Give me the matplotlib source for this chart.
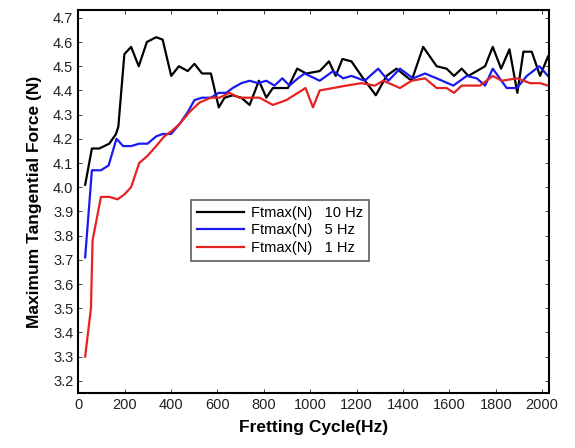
import matplotlib
matplotlib.use("Agg")
import matplotlib.pyplot as plt
from matplotlib.ticker import MultipleLocator, FormatStrFormatter

plt.rcParams["font.family"] = ["Liberation Sans", "DejaVu Sans"]

# ---- data
x10 = [30, 59, 91, 134, 163, 173, 199, 228, 261, 296, 336, 364, 401, 434, 472, 501,
       534, 572, 606, 631, 666, 703, 739, 779, 811, 839, 904, 944, 983, 1041, 1081,
       1110, 1139, 1178, 1221, 1283, 1329, 1372, 1437, 1487, 1545, 1588, 1620, 1653,
       1682, 1754, 1787, 1823, 1859, 1893, 1919, 1955, 1991, 2025]
y10 = [4.01, 4.16, 4.16, 4.18, 4.22, 4.25, 4.55, 4.58, 4.50, 4.60, 4.62, 4.61, 4.46,
       4.50, 4.48, 4.51, 4.47, 4.47, 4.33, 4.37, 4.38, 4.37, 4.34, 4.44, 4.37, 4.41,
       4.41, 4.49, 4.47, 4.48, 4.52, 4.46, 4.53, 4.52, 4.46, 4.38, 4.46, 4.49, 4.44,
       4.58, 4.50, 4.49, 4.46, 4.49, 4.46, 4.50, 4.58, 4.49, 4.57, 4.39, 4.56, 4.56,
       4.46, 4.54]

x5 = [30, 59, 98, 131, 165, 194, 228, 263, 299, 336, 364, 400, 436, 472, 501, 534,
      572, 606, 638, 666, 703, 739, 775, 811, 846, 880, 911, 947, 976, 998, 1041,
      1099, 1142, 1178, 1235, 1293, 1337, 1387, 1444, 1495, 1545, 1617, 1675, 1718,
      1754, 1787, 1847, 1891, 1934, 1988, 2025]
y5 = [3.71, 4.07, 4.07, 4.09, 4.20, 4.17, 4.17, 4.18, 4.18, 4.21, 4.22, 4.22, 4.26,
      4.31, 4.36, 4.37, 4.37, 4.39, 4.39, 4.41, 4.43, 4.44, 4.43, 4.44, 4.42, 4.45,
      4.42, 4.45, 4.47, 4.46, 4.44, 4.48, 4.45, 4.46, 4.44, 4.49, 4.44, 4.49, 4.45,
      4.47, 4.45, 4.42, 4.46, 4.45, 4.42, 4.49, 4.41, 4.41, 4.46, 4.50, 4.46]

x1 = [30, 55, 62, 98, 134, 170, 199, 228, 263, 299, 336, 371, 400, 436, 479, 523,
      572, 609, 652, 695, 739, 782, 839, 897, 947, 980, 1012, 1041, 1099, 1156, 1221,
      1279, 1315, 1387, 1437, 1495, 1545, 1588, 1620, 1653, 1732, 1787, 1826, 1891,
      1948, 1991, 2025]
y1 = [3.30, 3.50, 3.78, 3.96, 3.96, 3.95, 3.97, 4.00, 4.10, 4.13, 4.17, 4.21, 4.23,
      4.26, 4.31, 4.35, 4.37, 4.37, 4.39, 4.37, 4.37, 4.37, 4.34, 4.36, 4.39, 4.41,
      4.33, 4.40, 4.41, 4.42, 4.43, 4.42, 4.44, 4.41, 4.44, 4.45, 4.41, 4.41, 4.39,
      4.42, 4.42, 4.46, 4.44, 4.45, 4.43, 4.43, 4.42]

labels = ["Ftmax(N)   10 Hz", "Ftmax(N)   5 Hz", "Ftmax(N)   1 Hz"]
colors = ["black", "#1a1aee", "#e62222"]

fig = plt.figure(figsize=(5.75, 4.48), dpi=100)
ax = fig.add_axes([0.136, 0.123, 0.819, 0.855])

for xs, ys, lab, c in zip([x10, x5, x1], [y10, y5, y1], labels, colors):
    ax.plot(xs, ys, color=c, lw=1.6, label=lab)

ax.set_xlim(0, 2030)
ax.set_ylim(3.15, 4.733)
ax.xaxis.set_major_locator(MultipleLocator(200))
ax.yaxis.set_major_locator(MultipleLocator(0.1))
ax.yaxis.set_major_formatter(FormatStrFormatter("%.1f"))
ax.tick_params(direction="in", length=3, width=0.6, labelsize=10.5, colors="#222222",
               top=True, right=True)
for s in ax.spines.values():
    s.set_linewidth(1.5)

ax.set_xlabel("Fretting Cycle(Hz)", fontsize=12.5, fontweight="bold", labelpad=6)
ax.set_ylabel("Maximum Tangential Force (N)", fontsize=12.5, fontweight="bold", labelpad=8)

leg = ax.legend(loc="lower left", bbox_to_anchor=(0.225, 0.326), fontsize=10.5,
                frameon=True, fancybox=False, handlelength=3.2, borderpad=0.4,
                labelspacing=0.25, handletextpad=0.5)
leg.get_frame().set_edgecolor("#333333")
leg.get_frame().set_linewidth(1.2)

fig.savefig("out.png", dpi=100)
